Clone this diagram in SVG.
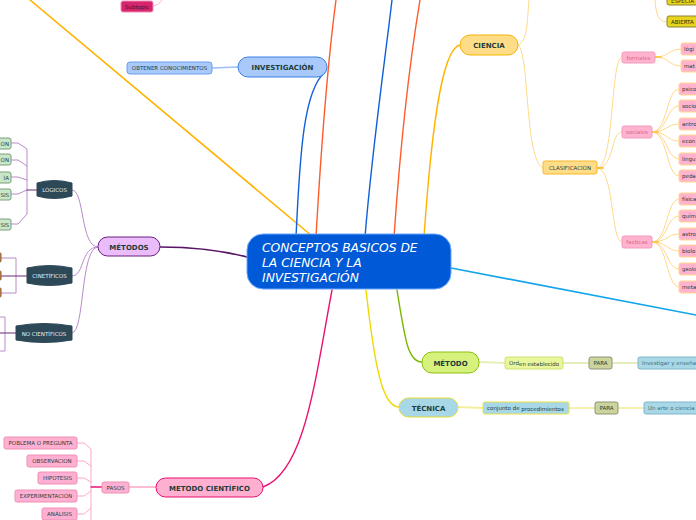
<svg xmlns="http://www.w3.org/2000/svg" width="696" height="520" viewBox="0 0 696 520">
<style>
text{font-family:"DejaVu Sans","Liberation Sans",sans-serif;fill:#1f3d3a}
.b{font-weight:bold;font-size:7px}
.s{font-size:5.5px}
.c{fill:none}
.pk{fill:#ffb3cf;stroke:#f39bbf;stroke-width:1}
.pkt{font-size:5.5px;fill:#d9668f}
.gr{fill:#c9e6c9;stroke:#7d9e7d;stroke-width:1}
.dk{fill:#2d4857;stroke:#2d4857}
.dkt{font-size:5.5px;fill:#e8eef0}
.yl{fill:#ffdd88;stroke:#f5b82a;stroke-width:1}
.bl{fill:#a8d8e8;stroke:#7eb6c8;stroke-width:1}
.pa{fill:#ccd49c;stroke:#8e9478;stroke-width:1}
.mp{fill:#ffb0d2;stroke:#ee8fb4;stroke-width:1}
.ct{font-style:italic;font-size:12.3px;fill:#ffffff}
</style>
<rect width="696" height="520" fill="#ffffff"/>
<g id="connectors" class="c" stroke-linecap="round">
<path d="M30,0 L312,236" stroke="#ffb300" stroke-width="1.6"/>
<path d="M296,237 C300,150 304,90 325,72" stroke="#1160d8" stroke-width="1.4"/>
<path d="M316,237 C321,150 328,60 336,0" stroke="#ff5a2a" stroke-width="1.4"/>
<path d="M365,237 C372,150 385,60 392,0" stroke="#1160d8" stroke-width="1.4"/>
<path d="M394,237 C400,150 410,60 420,0" stroke="#ff5a2a" stroke-width="1.4"/>
<path d="M424,237 C430,150 440,48 460,45" stroke="#ffb300" stroke-width="1.4"/>
<path d="M451,268 L696,315" stroke="#12a4ec" stroke-width="1.6"/>
<path d="M397,290 C405,340 408,362 422,362" stroke="#7ab800" stroke-width="1.4"/>
<path d="M366,290 C375,370 383,407 399,407" stroke="#f0d800" stroke-width="1.4"/>
<path d="M332,290 C315,380 305,472 263,487" stroke="#ea1470" stroke-width="1.4"/>
<path d="M247,257 C220,250 190,247 160,247" stroke="#5a1466" stroke-width="1.6"/>
<path d="M212,68 L238,67" stroke="#9cc0f4" stroke-width="1.5"/>
<path d="M153,6 C158,5 160,3 162,0" stroke="#ffb3c8" stroke-width="1"/>
<g stroke="#ffd98c" stroke-width="1">
<path d="M518,45 C528,42 527,20 529,0"/>
<path d="M518,45 C530,52 524,160 543,168"/>
<path d="M655,0 C656,14 658,22 667,22"/>
<path d="M597,168 C615,168 610,57 622,57"/>
<path d="M597,168 C615,168 610,132 622,132"/>
<path d="M597,168 C615,168 610,242 622,242"/>
<path d="M655,57 C670,57 668,49 681,49"/>
<path d="M655,57 C670,57 668,66 681,66"/>
<path d="M652,132 C668,132 666,89 679,89"/>
<path d="M652,132 C668,132 666,106 679,106"/>
<path d="M652,132 C668,132 666,124 679,124"/>
<path d="M652,132 C668,132 666,141 679,141"/>
<path d="M652,132 C668,132 666,159 679,159"/>
<path d="M652,132 C668,132 666,176 679,176"/>
<path d="M652,242 C668,242 666,199 679,199"/>
<path d="M652,242 C668,242 666,216 679,216"/>
<path d="M652,242 C668,242 666,234 679,234"/>
<path d="M652,242 C668,242 666,251 679,251"/>
<path d="M652,242 C668,242 666,269 679,269"/>
<path d="M652,242 C668,242 666,287 679,287"/>
</g>
<path d="M597,168 L603,168" stroke="#ffb300" stroke-width="1.6"/>
<path d="M652,132 L658,132 M652,242 L658,242 M655,57 L661,57" stroke="#ffc233" stroke-width="1.6"/>
<path d="M479,362 L505,363" stroke="#e4f0b8" stroke-width="2"/>
<path d="M563,363 L589,363 M612,363 L638,363" stroke="#c6dc7a" stroke-width="1"/>
<path d="M458,407 L483,408" stroke="#f4ef9c" stroke-width="2"/>
<path d="M569,408 L595,408 M618,408 L644,408" stroke="#e6e060" stroke-width="1"/>
<g stroke="#b98cc8" stroke-width="1">
<path d="M98,247 C80,247 85,190 72,190"/>
<path d="M98,247 C80,247 85,276 72,276"/>
<path d="M98,247 C80,247 85,333 72,333"/>
<path d="M11,143 L18,143 L27,149 L27,214 L18,224 L11,224"/>
<path d="M11,160 L18,160 L27,166"/>
<path d="M11,177 L18,177 L27,180"/>
<path d="M11,194 L18,194 L27,190"/>
<path d="M0,258 L16,258 L16,293 L0,293"/>
<path d="M0,317 L5,317 L5,351 L0,351"/>
</g>
<path d="M27,190 L37,190 M0,276 L27,276 M0,333 L16,333" stroke="#6a2a78" stroke-width="1.2"/>
<g stroke="#ffa6c8" stroke-width="1">
<path d="M77,443 L84,443 L91,449 L91,520"/>
<path d="M77,461 L84,461 L91,466"/>
<path d="M77,478 L84,478 L91,482"/>
<path d="M77,496 L84,496 L91,491"/>
<path d="M77,514 L84,514 L91,508"/>
<path d="M129,487 L156,487" stroke-width="1.6"/>
</g>
<path d="M91,487 L102,487" stroke="#ea1470" stroke-width="1.4"/>
</g>
<g id="center">
<rect x="247" y="234" width="204" height="55" rx="16" fill="#0059d6" stroke="#6aa6ff" stroke-width="1"/>
<text x="262" y="252" class="ct">CONCEPTOS BASICOS DE</text>
<text x="262" y="267" class="ct">LA CIENCIA Y LA</text>
<text x="262" y="282" class="ct">INVESTIGACIÓN</text>
</g>
<g id="investigacion">
<rect x="238" y="57" width="89" height="20" rx="10" fill="#a8c9fa" stroke="#3b7fe2" stroke-width="1"/>
<text x="282.5" y="70" class="b" text-anchor="middle">INVESTIGACIÓN</text>
</g>
<g id="obtener">
<rect x="127" y="62" width="85" height="12" rx="3" fill="#a8c9fa" stroke="#6a9fe8" stroke-width="1"/>
<text x="169.5" y="70" class="s" text-anchor="middle">OBTENER CONOCIMIENTOS</text>
</g>
<g id="subtopic">
<rect x="121" y="1" width="32" height="11" rx="2" fill="#d6246f" stroke="#f08cb0" stroke-width="1"/>
<text x="137" y="9" class="s" text-anchor="middle" style="fill:#3a1a28">Subtopic</text>
</g>
<g id="ciencia">
<rect x="460" y="35" width="58" height="20" rx="10" fill="#ffdd88" stroke="#f5b400" stroke-width="1"/>
<text x="489" y="48" class="b" text-anchor="middle">CIENCIA</text>
</g>
<g id="especial">
<rect x="667" y="-7" width="40" height="12" rx="2" fill="#e6d420" stroke="#8a8430" stroke-width="1"/>
<text x="671" y="2.5" class="s" style="fill:#2a2a10">ESPECIA</text>
</g>
<g id="abierta">
<rect x="667" y="16" width="40" height="11" rx="2" fill="#e6d420" stroke="#8a8430" stroke-width="1"/>
<text x="671" y="24" class="s" style="fill:#2a2a10">ABIERTA</text>
</g>
<g id="clasificacion">
<rect x="543" y="161" width="54" height="13" rx="2" class="yl"/>
<text x="570" y="170" class="s" text-anchor="middle">CLASIFICACIÓN</text>
</g>
<g id="formales"><rect x="622" y="52" width="33" height="11" rx="2" class="pk"/><text x="638.5" y="60" class="pkt" text-anchor="middle">formales</text></g>
<g id="sociales"><rect x="622" y="126" width="30" height="12" rx="2" class="pk"/><text x="637" y="134" class="pkt" text-anchor="middle">sociales</text></g>
<g id="facticas"><rect x="622" y="236" width="30" height="12" rx="2" class="pk"/><text x="637" y="244" class="pkt" text-anchor="middle">facticas</text></g>
<g id="logica"><rect x="681" y="43" width="30" height="12" rx="2" class="pk" style="stroke:#ffd98c"/><text x="684" y="51" class="s">lógi</text></g>
<g id="matematica"><rect x="681" y="60" width="30" height="12" rx="2" class="pk" style="stroke:#ffd98c"/><text x="684" y="68" class="s">mat</text></g>
<g id="psicologia"><rect x="679" y="83" width="30" height="12" rx="2" class="pk" style="stroke:#ffd98c"/><text x="682" y="91" class="s">psico</text></g>
<g id="sociologia"><rect x="679" y="100" width="30" height="12" rx="2" class="pk" style="stroke:#ffd98c"/><text x="682" y="108" class="s">socio</text></g>
<g id="antropologia"><rect x="679" y="118" width="30" height="12" rx="2" class="pk" style="stroke:#ffd98c"/><text x="682" y="126" class="s">antro</text></g>
<g id="economia"><rect x="679" y="135" width="30" height="12" rx="2" class="pk" style="stroke:#ffd98c"/><text x="682" y="143" class="s">econ</text></g>
<g id="linguistica"><rect x="679" y="153" width="30" height="12" rx="2" class="pk" style="stroke:#ffd98c"/><text x="682" y="161" class="s">lingu</text></g>
<g id="pedagogia"><rect x="679" y="170" width="30" height="12" rx="2" class="pk" style="stroke:#ffd98c"/><text x="682" y="178" class="s">peda</text></g>
<g id="fisica"><rect x="679" y="193" width="30" height="12" rx="2" class="pk" style="stroke:#ffd98c"/><text x="682" y="201" class="s">física</text></g>
<g id="quimica"><rect x="679" y="210" width="30" height="12" rx="2" class="pk" style="stroke:#ffd98c"/><text x="682" y="218" class="s">quím</text></g>
<g id="astronomia"><rect x="679" y="228" width="30" height="12" rx="2" class="pk" style="stroke:#ffd98c"/><text x="682" y="236" class="s">astro</text></g>
<g id="biologia"><rect x="679" y="245" width="30" height="12" rx="2" class="pk" style="stroke:#ffd98c"/><text x="682" y="253" class="s">biolo</text></g>
<g id="geologia"><rect x="679" y="263" width="30" height="12" rx="2" class="pk" style="stroke:#ffd98c"/><text x="682" y="271" class="s" style="font-size:5.2px">geolo</text></g>
<g id="meteorologia"><rect x="679" y="281" width="30" height="12" rx="2" class="pk" style="stroke:#ffd98c"/><text x="682" y="289" class="s">meta</text></g>
<g id="metodo">
<rect x="422" y="352" width="57" height="21" rx="10" fill="#d6f27c" stroke="#8cc010" stroke-width="1"/>
<text x="450.5" y="365.5" class="b" text-anchor="middle">MÉTODO</text>
</g>
<g id="orden">
<rect x="505" y="357" width="58" height="12" rx="2" fill="#eaf69c" stroke="#cfe270" stroke-width="1"/>
<text x="509" y="364.5" class="s">Ord<tspan dy="1">en establecido</tspan></text>
</g>
<g id="para1"><rect x="589" y="357" width="23" height="12" rx="2" class="pa"/><text x="600.5" y="365" class="s" text-anchor="middle">PARA</text></g>
<g id="investigar"><rect x="638" y="357" width="70" height="12" rx="2" class="bl"/><text x="642" y="365" class="s" style="fill:#3f6f7a">Investigar y enseña</text></g>
<g id="tecnica">
<rect x="399" y="398" width="59" height="19" rx="9.5" fill="#a8d8e8" stroke="#e6dc30" stroke-width="1"/>
<text x="428.5" y="410.5" class="b" text-anchor="middle">TÉCNICA</text>
</g>
<g id="conjunto">
<rect x="483" y="402" width="86" height="12" rx="2" fill="#a8d8e8" stroke="#eae048" stroke-width="1"/>
<text x="487" y="410" class="s">conjunto de <tspan dy="1">procedimientos</tspan></text>
</g>
<g id="para2"><rect x="595" y="402" width="23" height="12" rx="2" class="pa"/><text x="606.5" y="410" class="s" text-anchor="middle">PARA</text></g>
<g id="arte"><rect x="644" y="402" width="64" height="12" rx="2" class="bl"/><text x="648" y="410" class="s" style="fill:#3f6f7a">Un arte o ciencia</text></g>
<g id="metodos">
<rect x="98" y="237" width="62" height="19" rx="9.5" fill="#eabcf9" stroke="#6a2080" stroke-width="1"/>
<text x="129" y="249.5" class="b" text-anchor="middle">MÉTODOS</text>
</g>
<g id="logicos">
<path d="M37,183 Q54,178 72,183 L72,196 Q54,201 37,196 Z" class="dk"/>
<text x="54.5" y="192" class="dkt" text-anchor="middle">LÓGICOS</text>
</g>
<g id="cinetificos">
<path d="M27,268 Q49.5,263 72,268 L72,283 Q49.5,288 27,283 Z" class="dk"/>
<text x="49.5" y="277.5" class="dkt" text-anchor="middle">CINETÍFICOS</text>
</g>
<g id="nocientificos">
<path d="M16,326 Q44,321 72,326 L72,340 Q44,345 16,340 Z" class="dk"/>
<text x="44" y="335.5" class="dkt" text-anchor="middle">NO CIENTÍFICOS</text>
</g>
<g id="l1"><rect x="-30" y="138" width="41" height="11" rx="2" class="gr"/><text x="9" y="146" class="s" text-anchor="end">ÓN</text></g>
<g id="l2"><rect x="-30" y="154" width="41" height="11" rx="2" class="gr"/><text x="9" y="162" class="s" text-anchor="end">ÓN</text></g>
<g id="l3"><rect x="-30" y="172" width="41" height="11" rx="2" class="gr"/><text x="9" y="180" class="s" text-anchor="end">ÍA</text></g>
<g id="l4"><rect x="-30" y="189" width="41" height="11" rx="2" class="gr"/><text x="9" y="197" class="s" text-anchor="end">SIS</text></g>
<g id="l5"><rect x="-30" y="219" width="41" height="11" rx="2" class="gr"/><text x="9" y="227" class="s" text-anchor="end">SIS</text></g>
<g id="c1"><rect x="-30" y="253" width="31" height="9" rx="1" fill="#c8885a" stroke="#8a5a30"/></g>
<g id="c2"><rect x="-30" y="271" width="31" height="9" rx="1" fill="#c8885a" stroke="#8a5a30"/></g>
<g id="c3"><rect x="-30" y="288" width="31" height="9" rx="1" fill="#c8885a" stroke="#8a5a30"/></g>
<g id="metodocientifico">
<rect x="156" y="478" width="107" height="19" rx="9.5" fill="#ffb0d0" stroke="#e8106e" stroke-width="1"/>
<text x="209.5" y="490.5" class="b" text-anchor="middle">METODO CIENTÍFICO</text>
</g>
<g id="pasos"><rect x="102" y="482" width="27" height="11" rx="2" class="mp"/><text x="115.5" y="490" class="s" text-anchor="middle">PASOS</text></g>
<g id="p1"><rect x="4" y="437" width="73" height="12" rx="2" class="mp"/><text x="40.5" y="445" class="s" text-anchor="middle">POBLEMA O PREGUNTA</text></g>
<g id="p2"><rect x="27" y="455" width="50" height="12" rx="2" class="mp"/><text x="52" y="463" class="s" text-anchor="middle">OBSERVACION</text></g>
<g id="p3"><rect x="38" y="472" width="39" height="12" rx="2" class="mp"/><text x="57.5" y="480" class="s" text-anchor="middle">HIPOTESIS</text></g>
<g id="p4"><rect x="15" y="490" width="62" height="12" rx="2" class="mp"/><text x="46" y="498" class="s" text-anchor="middle">EXPERIMENTACIÓN</text></g>
<g id="p5"><rect x="42" y="508" width="35" height="12" rx="2" class="mp"/><text x="59.5" y="516" class="s" text-anchor="middle">ANÁLISIS</text></g>
</svg>
